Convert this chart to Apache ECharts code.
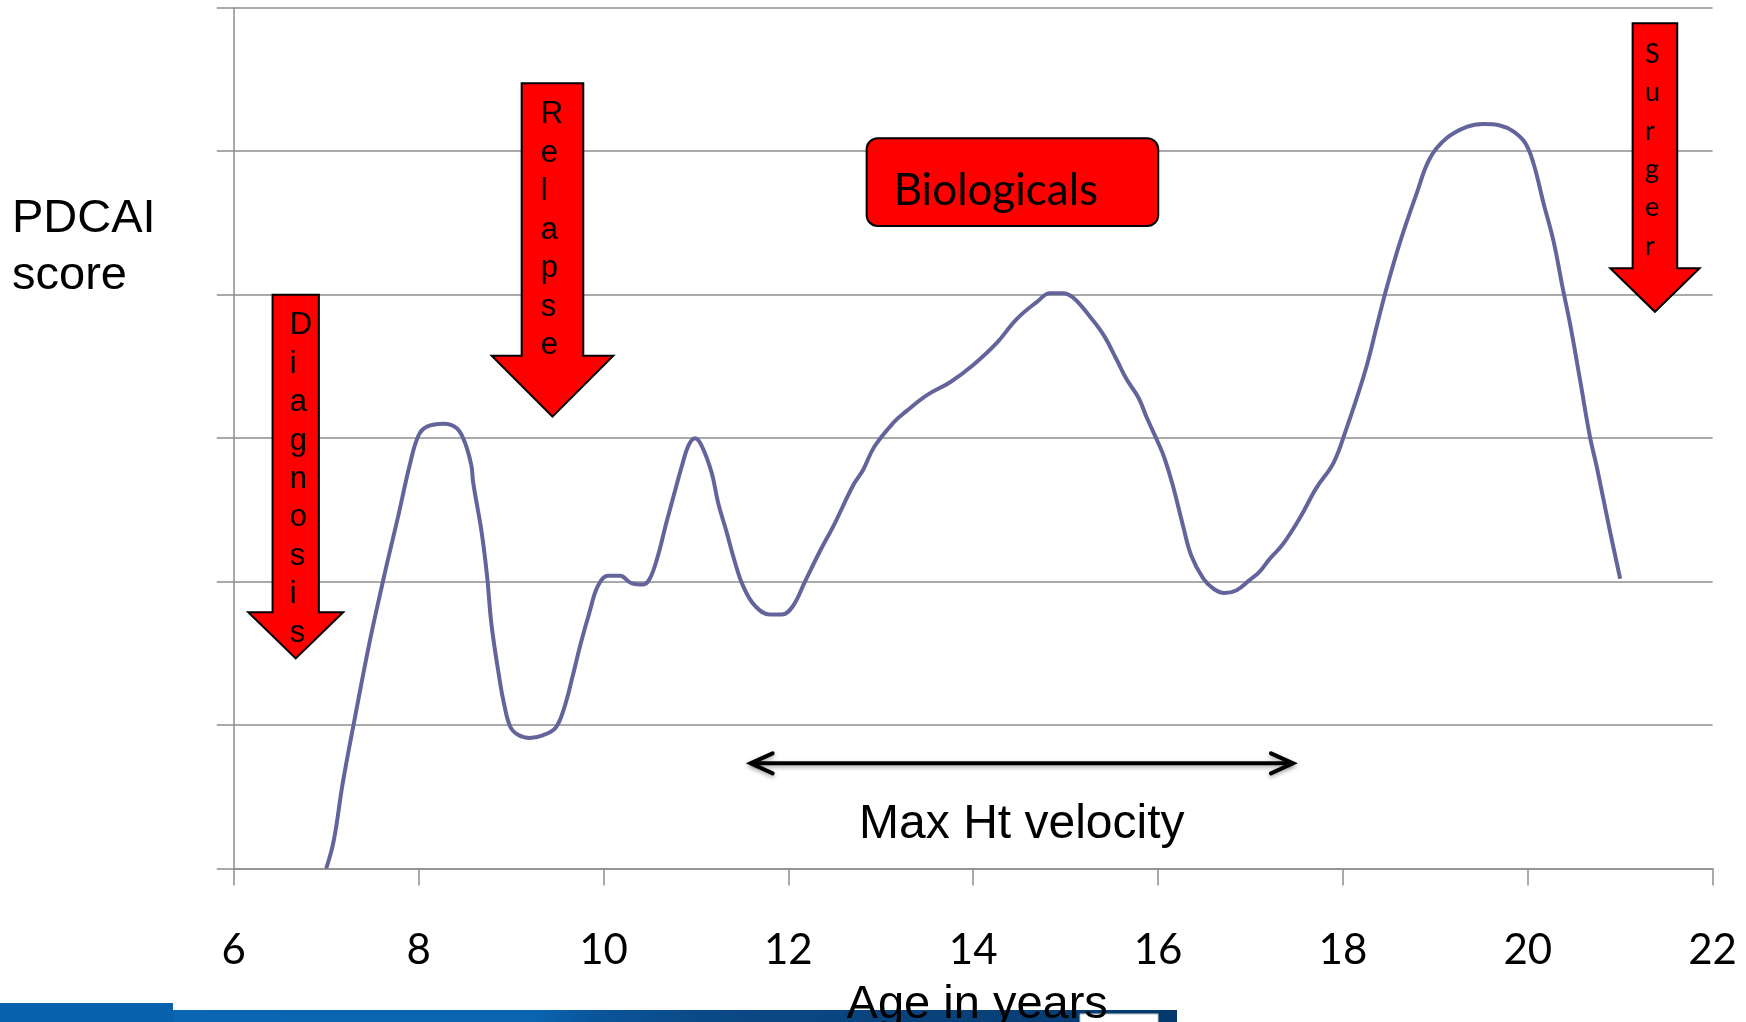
<!DOCTYPE html>
<html>
<head>
<meta charset="utf-8">
<script src="https://cdn.jsdelivr.net/npm/echarts@6/dist/echarts.min.js"></script>
<style>
  html, body { margin: 0; padding: 0; background: #fff; }
  #chart { width: 1746px; height: 1022px; }
</style>
</head>
<body>
<div id="chart"></div>
<script>
// Disease course: PDCAI score against age (years)
const ages = [
  7.00, 7.08, 7.18, 7.31, 7.47, 7.62, 7.67, 7.78, 7.91, 8.00,
  8.09, 8.27, 8.41, 8.50, 8.57, 8.59, 8.68, 8.74, 8.79, 8.88,
  8.92, 8.99, 9.08, 9.20, 9.35, 9.48, 9.57, 9.67, 9.75, 9.85,
  9.94, 10.05, 10.18, 10.30, 10.43, 10.50, 10.58, 10.68, 10.76, 10.85,
  10.92, 10.99, 11.06, 11.17, 11.24, 11.33, 11.42, 11.51, 11.64, 11.80,
  11.93, 12.05, 12.18, 12.34, 12.49, 12.70, 12.81, 12.93, 13.14, 13.28,
  13.50, 13.75, 14.00, 14.25, 14.47, 14.69, 14.83, 14.97, 15.08, 15.26,
  15.41, 15.55, 15.66, 15.79, 15.88, 16.00, 16.07, 16.16, 16.27, 16.36,
  16.49, 16.60, 16.72, 16.85, 16.99, 17.10, 17.21, 17.35, 17.54, 17.71,
  17.90, 18.04, 18.15, 18.26, 18.37, 18.47, 18.62, 18.80, 18.94, 19.12,
  19.34, 19.52, 19.70, 19.84, 19.97, 20.06, 20.17, 20.28, 20.38, 20.46,
  20.57, 20.67, 20.75, 20.89, 21.00
];
const scores = [
  0.0, 1.9, 6.0, 10.5, 15.8, 20.2, 21.6, 24.6, 28.3, 30.2,
  30.8, 31.0, 30.7, 29.7, 28.1, 26.9, 23.5, 20.4, 16.9, 13.0,
  11.6, 9.9, 9.3, 9.1, 9.3, 9.8, 11.1, 13.5, 15.6, 17.9,
  19.7, 20.4, 20.4, 19.9, 19.8, 20.2, 21.6, 24.1, 26.0, 28.1,
  29.5, 30.0, 29.5, 27.6, 25.5, 23.5, 21.4, 19.7, 18.3, 17.7,
  17.7, 18.3, 20.0, 22.1, 23.9, 26.7, 27.8, 29.4, 31.1, 31.9,
  33.0, 33.9, 35.1, 36.6, 38.3, 39.5, 40.1, 40.1, 39.8, 38.5,
  37.2, 35.5, 34.1, 32.8, 31.4, 29.7, 28.6, 26.7, 23.9, 21.8,
  20.2, 19.5, 19.2, 19.4, 20.1, 20.7, 21.6, 22.6, 24.5, 26.5,
  28.3, 30.7, 32.8, 35.1, 37.9, 40.4, 43.7, 47.1, 49.5, 50.9,
  51.7, 51.9, 51.8, 51.4, 50.6, 49.2, 46.4, 43.7, 40.4, 37.9,
  33.9, 30.2, 27.9, 23.5, 20.2
];
const ageTicks = [6, 8, 10, 12, 14, 16, 18, 20, 22];
const scoreTicks = [0, 10, 20, 30, 40, 50, 60];

// Event annotations (age, score range) and their captions
const eventNames = ['Diagnosis', 'Relapse', 'Surger'];
const eventAges = [6.67, 9.448, 21.376];
const eventTops = [40.0, 54.74, 58.92];
const eventBases = [17.86, 35.75, 41.84];
const eventTips = [14.65, 31.50, 38.81];
const therapyLabel = 'Biologicals';
const growthLabel = 'Max Ht velocity';
const growthSpan = [11.592, 17.46];

const GRID_COLOR = '#8e8e8e';
const chart = echarts.init(document.getElementById('chart'), null, { renderer: 'canvas' });

chart.setOption({
  animation: false,
  backgroundColor: '#ffffff',
  grid: { left: 233.8, right: 33.4, top: 7.8, bottom: 153.5, outerBoundsMode: 'none' },
  xAxis: {
    type: 'value',
    min: ageTicks[0],
    max: ageTicks[ageTicks.length - 1],
    interval: ageTicks[1] - ageTicks[0],
    axisLine: { show: true, lineStyle: { color: GRID_COLOR, width: 1.5 } },
    axisTick: { show: true, length: 17, lineStyle: { color: GRID_COLOR, width: 1.5 } },
    axisLabel: {
      show: true, margin: 60.5, color: '#000',
      fontFamily: 'Lato', fontSize: 42,
      formatter: v => String(v)
    },
    splitLine: { show: false }
  },
  yAxis: {
    type: 'value',
    min: scoreTicks[0],
    max: scoreTicks[scoreTicks.length - 1],
    interval: scoreTicks[1] - scoreTicks[0],
    axisLine: { show: true, lineStyle: { color: GRID_COLOR, width: 1.5 } },
    axisTick: { show: true, length: 17, lineStyle: { color: GRID_COLOR, width: 1.5 } },
    axisLabel: { show: false },
    splitLine: { show: true, lineStyle: { color: GRID_COLOR, width: 1.5 } }
  },
  series: [{
    type: 'line',
    data: ages.map((a, i) => [a, scores[i]]),
    showSymbol: false,
    smooth: 0.4,
    lineStyle: { color: '#64649c', width: 4 },
    z: 3
  }]
});

const P = (x, y) => chart.convertToPixel({ gridIndex: 0 }, [x, y]);

// Block arrow pointing down, with stacked caption letters
function blockArrow(i, shaftW, headW, font, lineH, dx) {
  const [cx, yTop] = P(eventAges[i], eventTops[i]);
  const yBase = P(eventAges[i], eventBases[i])[1];
  const yTip = P(eventAges[i], eventTips[i])[1];
  const s = shaftW / 2, h = headW / 2;
  return [
    {
      type: 'polygon', z: 20,
      shape: { points: [
        [cx - s, yTop], [cx + s, yTop], [cx + s, yBase], [cx + h, yBase],
        [cx, yTip], [cx - h, yBase], [cx - s, yBase]
      ] },
      style: { fill: '#ff0000', stroke: '#000', lineWidth: 2, lineJoin: 'miter' }
    },
    {
      type: 'text', z: 21,
      style: {
        text: eventNames[i].split('').join('\n'),
        x: cx + dx, y: yTop + 12,
        font: font, lineHeight: lineH,
        fill: '#000', align: 'left', verticalAlign: 'top'
      }
    }
  ];
}

const els = [];
els.push(...blockArrow(0, 46.3, 95, '31px "Liberation Sans", Arial, sans-serif', 38.4, -6));
els.push(...blockArrow(1, 61.6, 121.6, '31px "Liberation Sans", Arial, sans-serif', 38.5, -11.7));
els.push(...blockArrow(2, 44.6, 89.3, '27px Lato, sans-serif', 38.3, -10));

// Therapy box
const [bx0, by0] = P(12.847, 50.90);
const [bx1, by1] = P(16.002, 44.79);
els.push({
  type: 'rect', z: 20,
  shape: { x: bx0, y: by0, width: bx1 - bx0, height: by1 - by0, r: 11 },
  style: { fill: '#ff0000', stroke: '#000', lineWidth: 2 }
});
els.push({
  type: 'text', z: 21,
  style: {
    text: therapyLabel, x: bx0 + 27, y: by0 + 52.5,
    font: '44px Lato, sans-serif', fill: '#000',
    align: 'left', verticalAlign: 'middle'
  }
});

// Growth spurt double arrow
const [gx0, gy] = P(growthSpan[0], 7.33);
const gx1 = P(growthSpan[1], 7.33)[0];
const shadow = { shadowBlur: 4, shadowColor: 'rgba(0,0,0,0.35)', shadowOffsetY: 2 };
els.push({
  type: 'line', z: 20,
  shape: { x1: gx0 + 2, y1: gy, x2: gx1 - 2, y2: gy },
  style: Object.assign({ stroke: '#000', lineWidth: 4 }, shadow)
});
els.push({
  type: 'polyline', z: 20,
  shape: { points: [[gx0 + 22, gy - 10], [gx0, gy], [gx0 + 22, gy + 10]] },
  style: Object.assign({ stroke: '#000', lineWidth: 4, lineCap: 'round', lineJoin: 'miter', fill: null }, shadow)
});
els.push({
  type: 'polyline', z: 20,
  shape: { points: [[gx1 - 22, gy - 10], [gx1, gy], [gx1 - 22, gy + 10]] },
  style: Object.assign({ stroke: '#000', lineWidth: 4, lineCap: 'round', lineJoin: 'miter', fill: null }, shadow)
});
els.push({
  type: 'text', z: 21,
  style: {
    text: growthLabel, x: (gx0 + gx1) / 2, y: gy + 61,
    font: '48px "Liberation Sans", Arial, sans-serif', fill: '#000',
    align: 'center', verticalAlign: 'middle'
  }
});

// Y axis caption
els.push({
  type: 'text', z: 21,
  style: {
    text: 'PDCAI\nscore', x: 12, y: 190, lineHeight: 57.6,
    font: '47px "Liberation Sans", Arial, sans-serif', fill: '#000',
    align: 'left', verticalAlign: 'top'
  }
});

// Footer band of the slide
els.push({
  type: 'rect', z: 5,
  shape: { x: 0, y: 1003, width: 173, height: 19 },
  style: { fill: '#0862ad' }
});
els.push({
  type: 'rect', z: 5,
  shape: { x: 173, y: 1010, width: 1004, height: 12 },
  style: {
    fill: new echarts.graphic.LinearGradient(0, 0, 1, 0, [
      { offset: 0, color: '#0a66b2' },
      { offset: 0.36, color: '#0a64b0' },
      { offset: 0.42, color: '#0a559a' },
      { offset: 0.52, color: '#0b4a88' },
      { offset: 0.85, color: '#083f76' },
      { offset: 1, color: '#05386c' }
    ])
  }
});
els.push({
  type: 'rect', z: 6,
  shape: { x: 1080, y: 1014, width: 78, height: 10 },
  style: { fill: '#ffffff', stroke: '#c8c8c8', lineWidth: 1 }
});

// X axis caption, drawn above the footer band
const midX = (P(ageTicks[0], 0)[0] + P(ageTicks[ageTicks.length - 1], 0)[0]) / 2;
els.push({
  type: 'text', z: 22,
  style: {
    text: 'Age in years', x: midX + 4, y: 1005,
    font: '47px "Liberation Sans", Arial, sans-serif', fill: '#000',
    align: 'center', verticalAlign: 'middle'
  }
});

chart.setOption({ graphic: { elements: els } });
</script>
</body>
</html>
